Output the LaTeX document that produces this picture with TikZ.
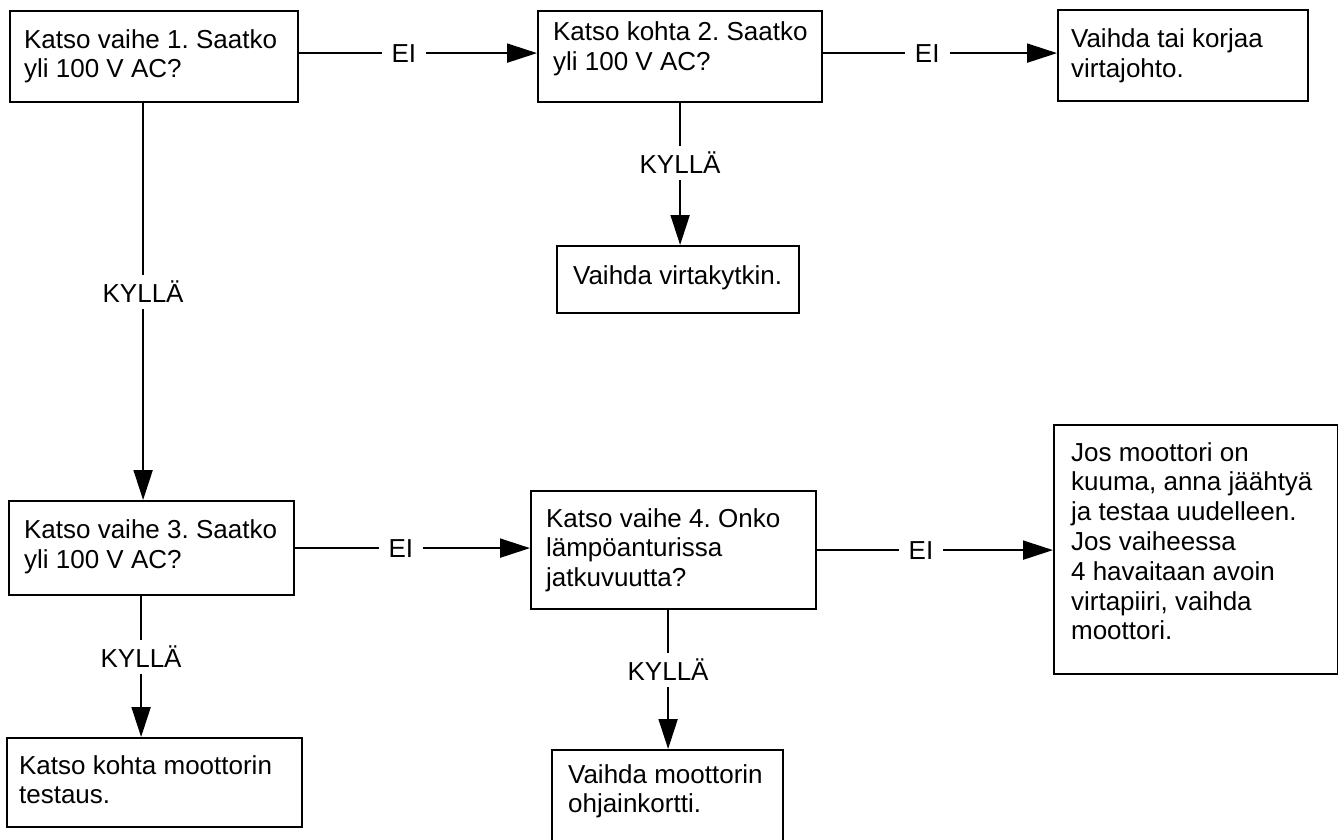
\documentclass[tikz,border=0pt]{standalone}
\usepackage{fontspec}
\setmainfont{Liberation Sans}
\usetikzlibrary{arrows.meta}
\frenchspacing

% Box body: width, height, first-baseline offset, left padding, text
\newcommand\flowtext[5]{%
  \parbox[c][#2][t]{#1}{\raggedright\leftskip=#4\relax\rule{0pt}{#3}#5}}

\tikzset{
  flow/.style={draw=black, line width=2.2pt, inner sep=0pt, anchor=north west,
    font=\fontsize{26}{29.8}\selectfont},
  link/.style={line width=2pt, -{Triangle[length=30pt,width=19pt]}},
  lbl/.style={fill=white, inner xsep=10pt, inner ysep=6pt,
    font=\fontsize{26}{29.8}\selectfont},
}

\begin{document}
\begin{tikzpicture}[x=1pt, y=-1pt]
\useasboundingbox (0,0) rectangle (1338,840);

% decision and action boxes
\node[flow] (A) at (9,10)
  {\flowtext{288pt}{91pt}{37pt}{14pt}{Katso vaihe 1. Saatko\\yli 100 V AC?}};
\node[flow] (B) at (537,10)
  {\flowtext{284pt}{91pt}{29.5pt}{15pt}{Katso kohta 2. Saatko\\yli 100 V AC?}};
\node[flow] (C) at (1057,9)
  {\flowtext{250pt}{91pt}{37.5pt}{13pt}{Vaihda tai korjaa\\virtajohto.}};
\node[flow] (D) at (556,245)
  {\flowtext{242pt}{67pt}{38pt}{16pt}{Vaihda virtakytkin.}};
\node[flow] (E) at (8,500)
  {\flowtext{285pt}{94pt}{37.5pt}{15pt}{Katso vaihe 3. Saatko\\yli 100 V AC?}};
\node[flow] (F) at (530,490)
  {\flowtext{285pt}{118pt}{36pt}{15pt}{Katso vaihe 4. Onko\\lämpöanturissa\\jatkuvuutta?}};
\node[flow] (G) at (1053,424)
  {\flowtext{284pt}{249pt}{36pt}{17pt}{Jos moottori on\\kuuma, anna jäähtyä\\ja testaa uudelleen.\\Jos vaiheessa\\4 havaitaan avoin\\virtapiiri, vaihda\\moottori.}};
\node[flow] (H) at (6,737)
  {\flowtext{295pt}{89pt}{36pt}{12pt}{Katso kohta moottorin\\testaus.}};
\node[flow] (I) at (551,749)
  {\flowtext{231pt}{110pt}{33pt}{16pt}{Vaihda moottorin\\ohjainkortti.}};

% "EI" branches
\draw[link] ([yshift=3.5pt]A.east) -- node[lbl, pos=0.44] {EI} ([yshift=3.5pt]A.east -| B.west);
\draw[link] ([yshift=3.5pt]B.east) -- node[lbl, pos=0.445] {EI} ([yshift=3.5pt]B.east -| C.west);
\draw[link] (E.east) -- node[lbl, pos=0.45] {EI} (E.east -| F.west);
\draw[link] (F.east) -- node[lbl, pos=0.44] {EI} (F.east -| G.west);

% "KYLLÄ" branches
\draw[link] ([xshift=-11pt]A.south) -- node[lbl, pos=0.475] {KYLLÄ} ([xshift=-11pt]A.south |- E.north);
\draw[link] (B.south) -- node[lbl, pos=0.42] {KYLLÄ} (B.south |- D.north);
\draw[link] ([xshift=-10.5pt]E.south) -- node[lbl, pos=0.43] {KYLLÄ} ([xshift=-10.5pt]E.south |- H.north);
\draw[link] ([xshift=-5.5pt]F.south) -- node[lbl, pos=0.43] {KYLLÄ} ([xshift=-5.5pt]F.south |- I.north);
\end{tikzpicture}
\end{document}
